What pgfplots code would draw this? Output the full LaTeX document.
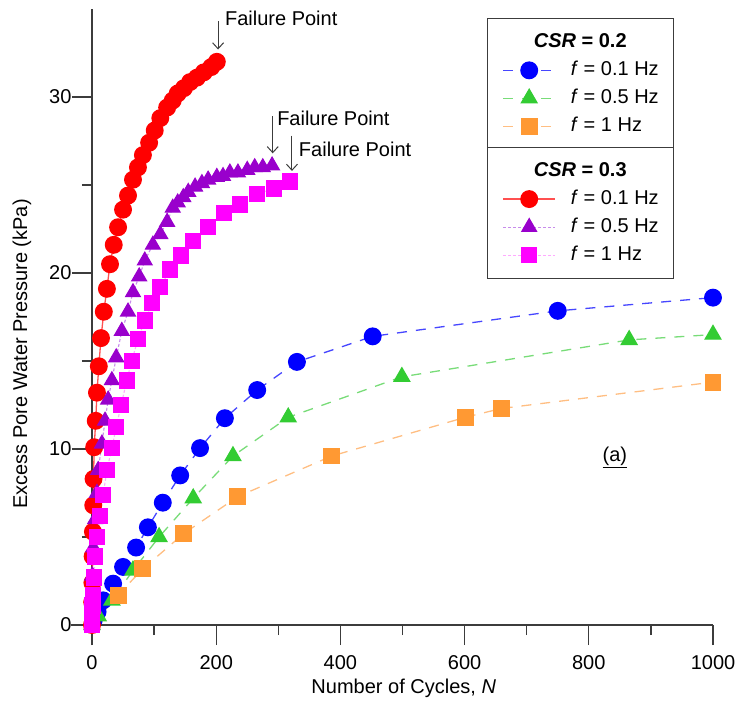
\documentclass[border=0pt]{standalone}
\usepackage{fontspec}
\setmainfont{Liberation Sans}
\usepackage{pgfplots}
\pgfplotsset{compat=1.18}
\usetikzlibrary{arrows.meta}

\definecolor{cBlue}{RGB}{0,0,255}
\definecolor{cBlueL}{RGB}{70,70,255}
\definecolor{cGreen}{RGB}{51,204,51}
\definecolor{cGreenL}{RGB}{120,220,120}
\definecolor{cOrange}{RGB}{255,153,51}
\definecolor{cOrangeL}{RGB}{255,190,130}
\definecolor{cRed}{RGB}{255,0,0}
\definecolor{cRedL}{RGB}{255,80,80}
\definecolor{cPurple}{RGB}{153,0,204}
\definecolor{cPurpleL}{RGB}{200,140,235}
\definecolor{cMagenta}{RGB}{255,0,255}
\definecolor{cMagentaL}{RGB}{255,170,255}
\definecolor{axisgray}{RGB}{60,60,60}

\newcommand{\lbl}{\fontsize{20bp}{24bp}\selectfont}

\pgfplotsset{
  base/.style={
    scale only axis, width=621bp, height=616bp,
    xmin=0, xmax=1000, ymin=0, ymax=35, clip=false,
    font=\lbl,
  },
  leg/.style={
    legend cell align=left,
    legend style={draw=axisgray, line width=1.2bp, fill=white, font=\lbl,
      inner xsep=15bp, inner ysep=14bp, row sep=9bp,
      nodes={inner sep=0bp, text height=15bp, text depth=4bp},
      /tikz/every odd column/.append style={column sep=15bp},
      anchor=north west},
    legend image code/.code={%
      \draw[mark repeat=2,mark phase=2,##1] plot coordinates {(0bp,0bp) (26bp,0bp) (52bp,0bp)};},
  },
}

\begin{document}
\begin{tikzpicture}
\path[use as bounding box] (-92bp,-82bp) rectangle (648bp,625bp);

% CSR = 0.2 series, with the axes
\begin{axis}[base, leg,
  axis lines=left,
  x axis line style={-, shorten <=-21bp, line width=1.4bp, color=axisgray},
  y axis line style={-, shorten <=-20bp, line width=1.4bp, color=axisgray},
  tick align=outside,
  major tick length=20bp, minor tick length=10bp,
  tick style={line width=1.2bp, color=axisgray},
  xtick={0,200,...,1000}, minor x tick num=1,
  ytick={0,10,20,30}, minor y tick num=1,
  /pgf/number format/assume math mode=true,
  /pgf/number format/1000 sep={},
  xticklabel style={yshift=-7bp},
  yticklabel style={xshift=3bp},
  legend style={at={(axis description cs:0.636,0.985)}},
]
\addlegendimage{empty legend}
\addlegendentry{\hspace*{-37bp}\textbf{\textit{CSR} = 0.2}}

\addplot[color=cBlueL, line width=1.3bp, dash pattern=on 10bp off 9bp,
  mark=*, mark size=8.3bp, mark options={solid, fill=cBlue, draw=cBlue}]
  coordinates {(3,0.3) (9,0.75) (18,1.4) (34,2.35) (50,3.3) (71,4.4) (90,5.55)
  (114,6.95) (142,8.5) (174,10.05) (214,11.75) (266,13.35) (330,14.95)
  (452,16.4) (750,17.85) (1000,18.6)};
\addlegendentry{\textit{f} = 0.1 Hz}

\addplot[color=cGreenL, line width=1.3bp, dash pattern=on 10bp off 9bp,
  mark=triangle*, mark size=9bp, mark options={solid, fill=cGreen, draw=cGreen}]
  coordinates {(0,0) (10,0.5) (32,1.4) (66,3.1) (108,5.0) (163,7.2) (227,9.6)
  (316,11.8) (499,14.1) (865,16.2) (1000,16.5)};
\addlegendentry{\textit{f} = 0.5 Hz}

\addplot[color=cOrangeL, line width=1.3bp, dash pattern=on 10bp off 9bp,
  mark=square*, mark size=7.8bp, mark options={solid, fill=cOrange, draw=cOrange}]
  coordinates {(0,0) (42,1.7) (82,3.2) (148,5.2) (235,7.3) (386,9.6) (601,11.8)
  (659,12.3) (1000,13.8)};
\addlegendentry{\textit{f} = 1 Hz}

% labels and notes
\node[rotate=90, font=\lbl] at (axis cs:-113,15.4) {Excess Pore Water Pressure (kPa)};
\node[font=\lbl] at (axis cs:502,-3.6) {Number of Cycles, \textit{N}};
\node[font=\lbl] at (axis cs:842,9.5) {\underline{(a)}};

\node[font=\lbl, anchor=west, inner sep=0bp] at (axis cs:214,34.45) {Failure Point};
\draw[-{Straight Barb[length=6bp,width=11bp]}, line width=1bp, color=axisgray]
  (axis cs:203,34.3) -- (axis cs:203,32.7);
\node[font=\lbl, anchor=west, inner sep=0bp] at (axis cs:298,28.8) {Failure Point};
\draw[-{Straight Barb[length=6bp,width=11bp]}, line width=1bp, color=axisgray]
  (axis cs:291,28.9) -- (axis cs:291,26.8);
\node[font=\lbl, anchor=west, inner sep=0bp] at (axis cs:333,27.05) {Failure Point};
\draw[-{Straight Barb[length=6bp,width=11bp]}, line width=1bp, color=axisgray]
  (axis cs:322,27.8) -- (axis cs:322,25.8);
\end{axis}

% CSR = 0.3 series
\begin{axis}[base, leg, hide axis,
  legend style={at={(axis description cs:0.636,0.776)}},
]
\addlegendimage{empty legend}
\addlegendentry{\hspace*{-37bp}\textbf{\textit{CSR} = 0.3}}

\addplot[color=cRedL, line width=1.3bp,
  mark=*, mark size=8.3bp, mark options={solid, fill=cRed, draw=cRed}]
  coordinates {(0,0) (0.3,1.3) (0.6,2.4) (1,3.9) (1.5,5.3) (2,6.8) (2.5,8.3)
  (3.5,10.1) (6,11.6) (8,13.2) (11,14.7) (14.5,16.3) (19,17.8) (24,19.1)
  (29,20.5) (35,21.6) (42,22.6) (50,23.6) (58,24.4) (66,25.3) (74,26.0)
  (82,26.7) (92,27.4) (101,28.1) (110,28.8) (121,29.4) (130,29.8) (138,30.2)
  (148,30.5) (158,30.85) (169,31.1) (180,31.4) (192,31.7) (201,32.0)};
\addlegendentry{\textit{f} = 0.1 Hz}

\addplot[color=cPurpleL, line width=1.1bp, dash pattern=on 3bp off 2bp,
  mark=triangle*, mark size=8.5bp, mark options={solid, fill=cPurple, draw=cPurple}]
  coordinates {(0,0) (0,1.4) (0.5,2.8) (2,4.4) (5,6.0) (8,7.5) (10,8.8)
  (16,10.3) (21,11.6) (26,12.8) (32,13.9) (39,15.2) (48,16.7) (58,17.8)
  (66,18.9) (76,19.8) (85,20.7) (98,21.6) (110,22.2) (121,22.9) (130,23.7)
  (138,24.0) (147,24.3) (155,24.6) (166,24.9) (177,25.1) (187,25.3)
  (201,25.45) (211,25.5) (222,25.7) (235,25.7) (250,25.85) (262,26.0)
  (275,26.0) (290,26.1)};
\addlegendentry{\textit{f} = 0.5 Hz}

\addplot[color=cMagentaL, line width=1.1bp, dash pattern=on 3bp off 2bp,
  mark=square*, mark size=7.6bp, mark options={solid, fill=cMagenta, draw=cMagenta}]
  coordinates {(0,0) (0.5,0.6) (1,1.1) (1.5,1.7) (3,2.7) (5,3.9) (8,5.0)
  (13,6.2) (18,7.4) (24,8.8) (32,10.05) (39,11.25) (47,12.5) (56,13.9)
  (64,15.0) (74,16.25) (85,17.3) (97,18.3) (110,19.2) (126,20.2) (143,21.0)
  (163,21.8) (187,22.6) (213,23.4) (238,23.9) (266,24.5) (293,24.8) (319,25.2)};
\addlegendentry{\textit{f} = 1 Hz}
\end{axis}
\end{tikzpicture}
\end{document}
